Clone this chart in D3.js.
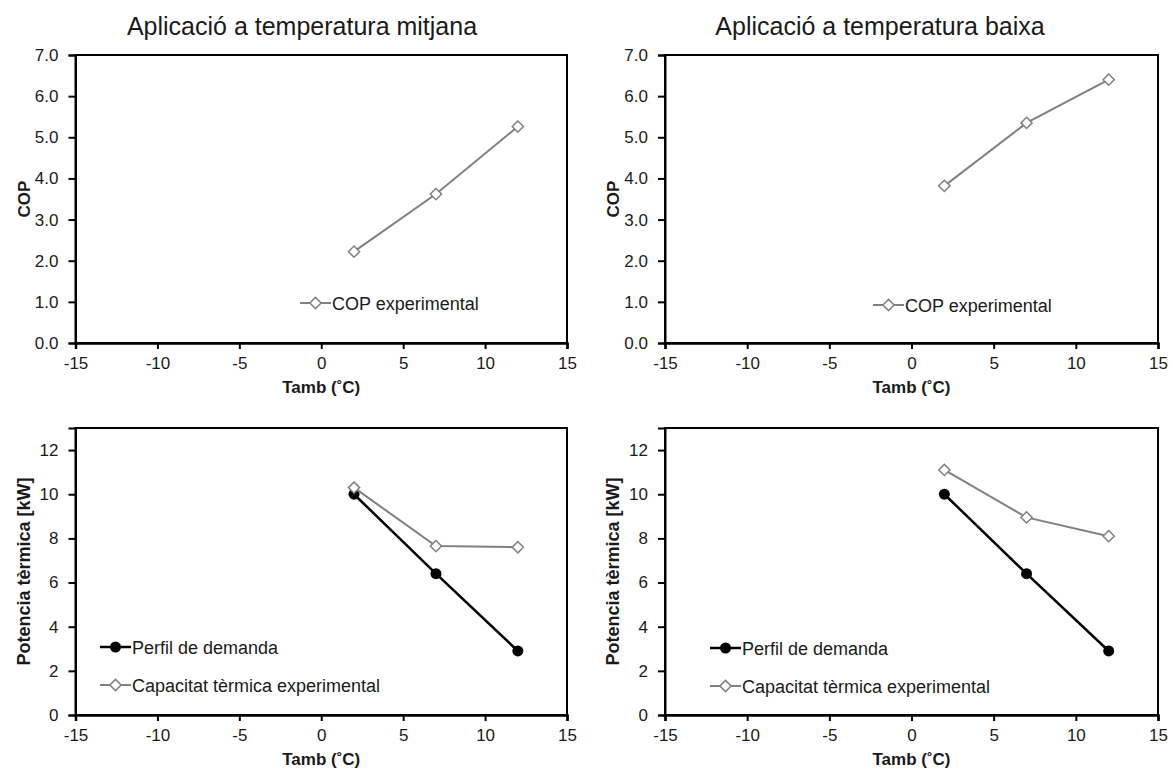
<!DOCTYPE html>
<html>
<head>
<meta charset="utf-8">
<script src="https://cdn.jsdelivr.net/npm/d3@7"></script>
<style>
  body { margin: 0; background: #fff; }
  svg { font-family: Arial, "Liberation Sans", sans-serif; }
  .axis path, .axis line { stroke: #000; }
  .axis text { font-size: 17px; fill: #1a1a1a; }
</style>
</head>
<body>
<div id="chart"></div>
<script>
// ambient temperatures (x values, shared by every series)
var tamb = [2, 7, 12];

// COP, medium and low temperature application
var copMitjana = [2.22, 3.62, 5.26];
var copBaixa = [3.82, 5.35, 6.40];

// thermal power [kW]
var demanda = [10.0, 6.4, 2.9];
var capacitatMitjana = [10.3, 7.65, 7.6];
var capacitatBaixa = [11.1, 8.95, 8.1];

var xTicks = [-15, -10, -5, 0, 5, 10, 15];
var copTicks = [0, 1, 2, 3, 4, 5, 6, 7];
var powerTicks = [0, 2, 4, 6, 8, 10, 12];

var titles = ["Aplicació a temperatura mitjana", "Aplicació a temperatura baixa"];

var svg = d3.select('#chart').append('svg')
    .attr('width', 1172)
    .attr('height', 769);

var grey = '#808080';

function panel(opt) {
  var x = d3.scaleLinear().domain([-15, 15]).range([opt.left, opt.right]);
  var y = d3.scaleLinear().domain(opt.yDomain).range([opt.bottom, opt.top]);
  var g = svg.append('g');

  // frame
  g.append('rect')
      .attr('x', opt.left).attr('y', opt.top)
      .attr('width', opt.right - opt.left).attr('height', opt.bottom - opt.top)
      .attr('fill', 'none').attr('stroke', '#000').attr('stroke-width', 2);

  g.append('g').attr('class', 'axis')
      .attr('transform', 'translate(0,' + opt.bottom + ')')
      .call(d3.axisBottom(x).tickValues(xTicks).tickSize(6).tickPadding(8).tickFormat(function(d) { return String(d); }))
      .call(function(a) { a.select('.domain').attr('stroke-width', 2.5); a.selectAll('line').attr('stroke-width', 2); });

  g.append('g').attr('class', 'axis')
      .attr('transform', 'translate(' + opt.left + ',0)')
      .call(d3.axisLeft(y).tickValues(opt.yTicks).tickSize(7).tickPadding(10).tickFormat(opt.yFormat))
      .call(function(a) { a.select('.domain').attr('stroke-width', 2); a.selectAll('line').attr('stroke-width', 2); });

  // axis titles
  g.append('text')
      .attr('x', (opt.left + opt.right) / 2)
      .attr('y', opt.bottom + 50)
      .attr('text-anchor', 'middle')
      .attr('font-size', 17).attr('font-weight', 'bold').attr('fill', '#1a1a1a')
      .text('Tamb (˚C)');

  g.append('text')
      .attr('transform', 'translate(' + (opt.left - 46) + ',' + ((opt.top + opt.bottom) / 2) + ') rotate(-90)')
      .attr('text-anchor', 'middle')
      .attr('font-size', opt.yLabelSize).attr('font-weight', 'bold').attr('fill', '#1a1a1a')
      .text(opt.yLabel);

  if (opt.title) {
    g.append('text')
        .attr('x', opt.titleX)
        .attr('y', 35)
        .attr('text-anchor', 'middle')
        .attr('font-size', 25).attr('fill', '#1a1a1a')
        .text(opt.title);
  }

  var line = d3.line().x(function(d) { return x(d[0]); }).y(function(d) { return y(d[1]); });
  var diamond = d3.symbol().type(d3.symbolDiamond2).size(80);

  opt.series.forEach(function(s) {
    var pts = d3.zip(tamb, s.values);
    g.append('path')
        .attr('d', line(pts))
        .attr('fill', 'none')
        .attr('stroke', s.color).attr('stroke-width', s.width);
    drawMarks(g.selectAll(null).data(pts).enter(), s, function(d) { return x(d[0]); }, function(d) { return y(d[1]); });
  });

  // legend
  opt.series.forEach(function(s, i) {
    var ly = opt.legendY + i * 38;
    g.append('line')
        .attr('x1', opt.legendX).attr('x2', opt.legendX + 31)
        .attr('y1', ly).attr('y2', ly)
        .attr('stroke', s.color).attr('stroke-width', s.width);
    drawMarks(g.selectAll(null).data([[0, 0]]).enter(), s,
        function() { return opt.legendX + 15.5; }, function() { return ly; });
    g.append('text')
        .attr('x', opt.legendX + 32).attr('y', ly + 6.5)
        .attr('font-size', 18).attr('fill', '#1a1a1a')
        .text(s.name);
  });

  function drawMarks(sel, s, fx, fy) {
    if (s.marker === 'circle') {
      sel.append('circle')
          .attr('cx', fx).attr('cy', fy).attr('r', 5.5)
          .attr('fill', '#000');
    } else {
      sel.append('path')
          .attr('d', diamond)
          .attr('transform', function(d) { return 'translate(' + fx(d) + ',' + fy(d) + ')'; })
          .attr('fill', '#fff').attr('stroke', grey).attr('stroke-width', 1.5);
    }
  }
}

var fmt1 = d3.format('.1f');
var fmt0 = d3.format('d');

panel({ left: 75.5, right: 567, top: 55, bottom: 343, yDomain: [0, 7], yTicks: copTicks, yFormat: fmt1,
  yLabel: 'COP', yLabelSize: 17, title: titles[0], titleX: 302, legendX: 300, legendY: 303,
  series: [{ name: 'COP experimental', values: copMitjana, color: grey, width: 2, marker: 'diamond' }] });

panel({ left: 665, right: 1158, top: 55, bottom: 343, yDomain: [0, 7], yTicks: copTicks, yFormat: fmt1,
  yLabel: 'COP', yLabelSize: 17, title: titles[1], titleX: 880, legendX: 873, legendY: 305,
  series: [{ name: 'COP experimental', values: copBaixa, color: grey, width: 2, marker: 'diamond' }] });

panel({ left: 75.5, right: 567, top: 428, bottom: 715, yDomain: [0, 13], yTicks: powerTicks, yFormat: fmt0,
  yLabel: 'Potencia tèrmica [kW]', yLabelSize: 18, legendX: 100, legendY: 647,
  series: [
    { name: 'Perfil de demanda', values: demanda, color: '#000', width: 2.5, marker: 'circle' },
    { name: 'Capacitat tèrmica experimental', values: capacitatMitjana, color: grey, width: 2, marker: 'diamond' }
  ] });

panel({ left: 665, right: 1158, top: 428, bottom: 715, yDomain: [0, 13], yTicks: powerTicks, yFormat: fmt0,
  yLabel: 'Potencia tèrmica [kW]', yLabelSize: 18, legendX: 710, legendY: 648,
  series: [
    { name: 'Perfil de demanda', values: demanda, color: '#000', width: 2.5, marker: 'circle' },
    { name: 'Capacitat tèrmica experimental', values: capacitatBaixa, color: grey, width: 2, marker: 'diamond' }
  ] });
</script>
</body>
</html>
